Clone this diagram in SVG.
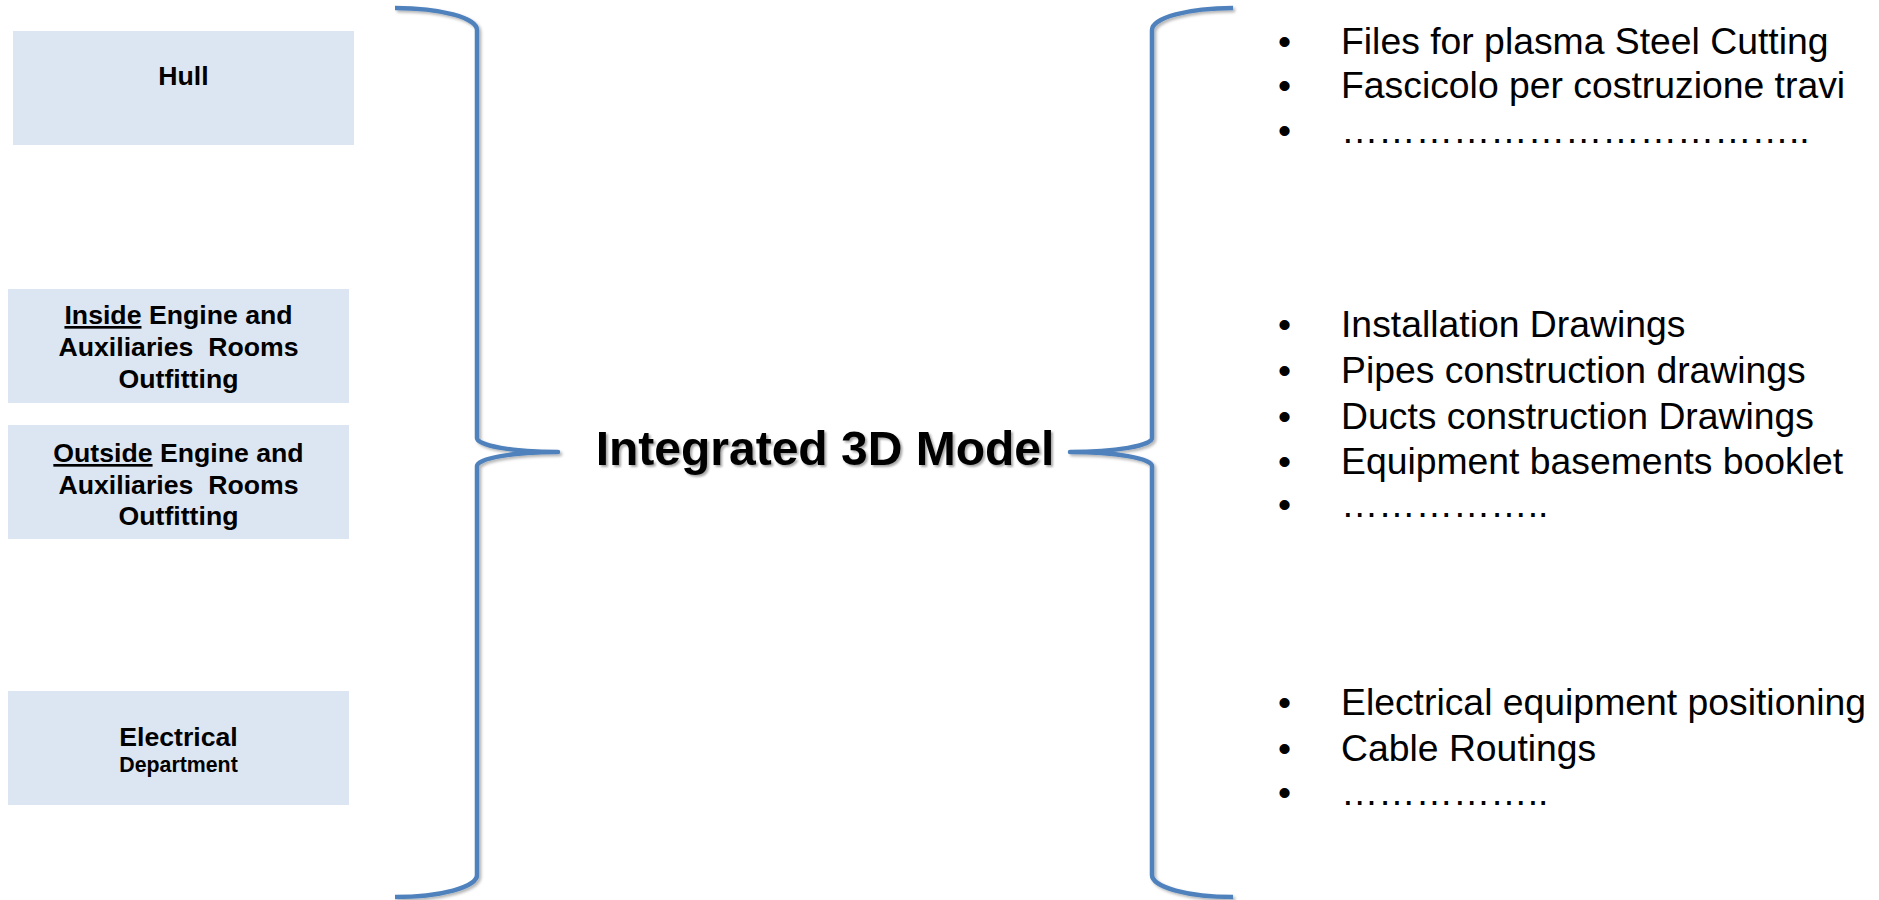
<svg xmlns="http://www.w3.org/2000/svg" width="1879" height="900" viewBox="0 0 1879 900">
  <defs>
    <filter id="shadow" x="-20%" y="-5%" width="140%" height="110%">
      <feDropShadow dx="2" dy="2" stdDeviation="1.5" flood-color="#000" flood-opacity="0.3"/>
    </filter>
    <filter id="tshadow" x="-5%" y="-20%" width="110%" height="140%">
      <feDropShadow dx="2" dy="2" stdDeviation="1.2" flood-color="#000" flood-opacity="0.35"/>
    </filter>
  </defs>
  <style>
    .box { fill: #DCE6F2; }
    .lbl { font-family: "Liberation Sans", Arial, sans-serif; font-weight: bold; font-size: 26.67px; fill: #000; text-anchor: middle; white-space: pre; }
    .sub { font-size: 21.33px; }
    .title { font-family: "Liberation Sans", Arial, sans-serif; font-weight: bold; font-size: 48px; fill: #000; text-anchor: middle; }
    .item { font-family: "Liberation Sans", Arial, sans-serif; font-size: 37.33px; fill: #000; }
    .brace { fill: none; stroke: #4F81BD; stroke-width: 4.5; stroke-linecap: butt; stroke-linejoin: round; }
  </style>
  <rect width="1879" height="900" fill="#FFFFFF"/>

  <g id="connectors" filter="url(#shadow)">
    <path class="brace" d="M395,8 A82,22 0 0 1 477,30 V438 A81,14 0 0 0 558,452 A81,14 0 0 0 477,466 V875 A82,22 0 0 1 395,897"/>
    <path class="brace" d="M1233,8 A81,22 0 0 0 1152,30 V438 A82,14 0 0 1 1070,452 A82,14 0 0 1 1152,466 V875 A81,22 0 0 0 1233,897"/>
  </g>

  <g id="hull">
    <rect class="box" x="13" y="31" width="341" height="114"/>
    <text class="lbl" x="183.5" y="85">Hull</text>
  </g>

  <g id="inside">
    <rect class="box" x="8" y="289" width="341" height="114"/>
    <text class="lbl" x="178.5" y="324"><tspan text-decoration="underline">Inside</tspan> Engine and</text>
    <text class="lbl" x="178.5" y="356">Auxiliaries  Rooms</text>
    <text class="lbl" x="178.5" y="388">Outfitting</text>
  </g>

  <g id="outside">
    <rect class="box" x="8" y="425" width="341" height="114"/>
    <text class="lbl" x="178.5" y="462"><tspan text-decoration="underline">Outside</tspan> Engine and</text>
    <text class="lbl" x="178.5" y="493.5">Auxiliaries  Rooms</text>
    <text class="lbl" x="178.5" y="525">Outfitting</text>
  </g>

  <g id="electrical">
    <rect class="box" x="8" y="691" width="341" height="114"/>
    <text class="lbl" x="178.5" y="746">Electrical</text>
    <text class="lbl sub" x="178.5" y="772">Department</text>
  </g>

  <g id="model">
    <text class="title" x="825" y="465" filter="url(#tshadow)">Integrated 3D Model</text>
  </g>

  <g id="hull-outputs">
    <text class="item" x="1278" y="53.5">•</text>
    <text class="item" x="1341" y="53.5">Files for plasma Steel Cutting</text>
    <text class="item" x="1278" y="98">•</text>
    <text class="item" x="1341" y="98">Fascicolo per costruzione travi</text>
    <text class="item" x="1278" y="142.5">•</text>
    <text class="item" x="1341" y="142.5">&#8230;&#8230;&#8230;&#8230;&#8230;&#8230;&#8230;&#8230;&#8230;&#8230;&#8230;&#8230;..</text>
  </g>

  <g id="outfitting-outputs">
    <text class="item" x="1278" y="337">•</text>
    <text class="item" x="1341" y="337">Installation Drawings</text>
    <text class="item" x="1278" y="383">•</text>
    <text class="item" x="1341" y="383">Pipes construction drawings</text>
    <text class="item" x="1278" y="428.5">•</text>
    <text class="item" x="1341" y="428.5">Ducts construction Drawings</text>
    <text class="item" x="1278" y="473.5">•</text>
    <text class="item" x="1341" y="473.5">Equipment basements booklet</text>
    <text class="item" x="1278" y="517">•</text>
    <text class="item" x="1341" y="517">&#8230;&#8230;&#8230;&#8230;&#8230;..</text>
  </g>

  <g id="electrical-outputs">
    <text class="item" x="1278" y="715">•</text>
    <text class="item" x="1341" y="715">Electrical equipment positioning</text>
    <text class="item" x="1278" y="760.5">•</text>
    <text class="item" x="1341" y="760.5">Cable Routings</text>
    <text class="item" x="1278" y="805">•</text>
    <text class="item" x="1341" y="805">&#8230;&#8230;&#8230;&#8230;&#8230;..</text>
  </g>
</svg>
